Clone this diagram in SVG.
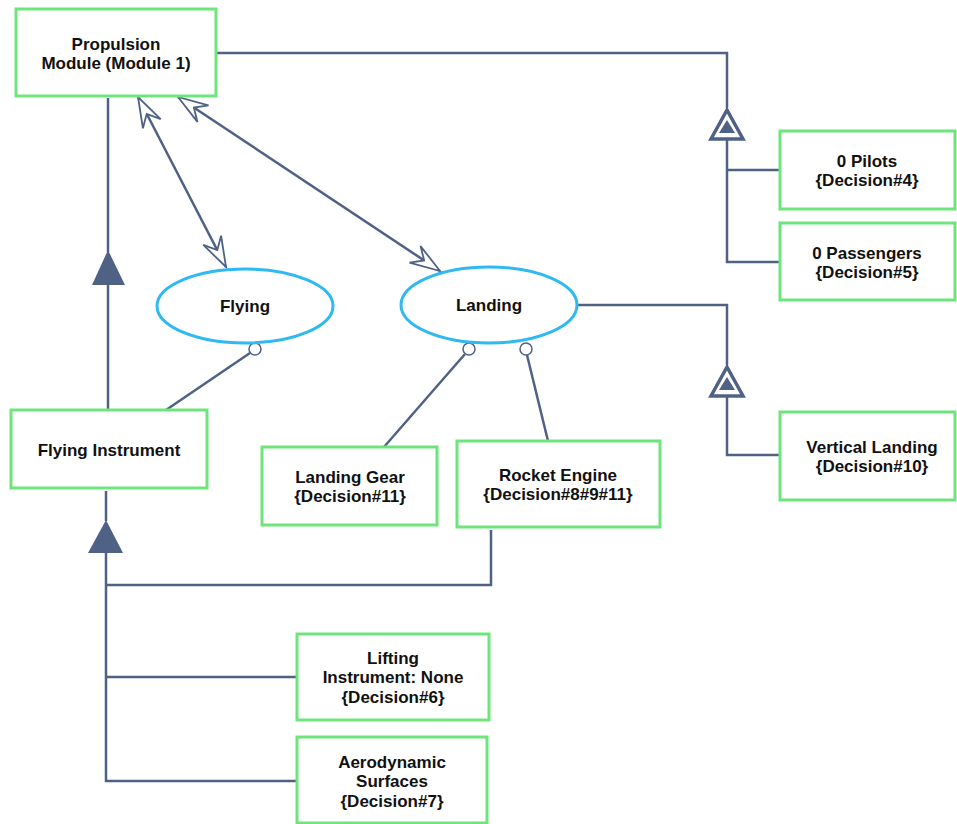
<svg xmlns="http://www.w3.org/2000/svg" width="957" height="824" viewBox="0 0 957 824">
<style>
.box{fill:#fff;stroke:#6ee57a;stroke-width:3}
.ell{fill:#fff;stroke:#2fb9f2;stroke-width:3}
.ln{fill:none;stroke:#4f6285;stroke-width:2.5}
.dot{fill:#fff;stroke:#4f6285;stroke-width:1.5}
.t{font-family:"Liberation Sans",Arial,sans-serif;font-weight:bold;font-size:17px;fill:#111;text-anchor:middle}
.gen{fill:#4f6285}
.gen2{fill:#fff;stroke:#4f6285;stroke-width:3.5}
</style>
<defs>
<marker id="oa" viewBox="-32 -12 34 24" refX="0" refY="0" markerWidth="34" markerHeight="24" markerUnits="userSpaceOnUse" orient="auto-start-reverse">
<path d="M0,0 L-30,-10 L-19,0 L-30,10 Z" fill="#fff" stroke="#4f6285" stroke-width="1.8" stroke-linejoin="miter"/>
</marker>
</defs>
<g id="connectors">
<polyline class="ln" points="216,53 727,53 727,108"/>
<polyline class="ln" points="727,139 727,262 780,262"/>
<line class="ln" x1="727" y1="170" x2="780" y2="170"/>
<polygon class="gen2" points="727,110 711,139 743,139"/>
<polygon class="gen" points="727,120 719,133 735,133"/>
<polyline class="ln" points="577,305 727,305 727,365"/>
<polyline class="ln" points="727,397 727,455 780,455"/>
<polygon class="gen2" points="727,367 711,396 743,396"/>
<polygon class="gen" points="727,377 719,390 735,390"/>
<line class="ln" x1="108" y1="98" x2="108" y2="252"/>
<line class="ln" x1="108" y1="284" x2="108" y2="410"/>
<polygon class="gen" points="108,250 92,285 125,285"/>
<line class="ln" x1="106" y1="491" x2="106" y2="521"/>
<polygon class="gen" points="106,520 88,553 123,553"/>
<polyline class="ln" points="106,553 106,781 297,781"/>
<polyline class="ln" points="106,585 491,585 491,530"/>
<line class="ln" x1="106" y1="677" x2="297" y2="677"/>
<line class="ln" x1="166" y1="410" x2="250" y2="353"/>
<circle class="dot" cx="255" cy="349" r="6"/>
<line class="ln" x1="384" y1="447" x2="465" y2="354"/>
<circle class="dot" cx="469" cy="349" r="6"/>
<line class="ln" x1="548" y1="441" x2="527" y2="355"/>
<circle class="dot" cx="526" cy="349" r="6"/>
<line class="ln" x1="138" y1="97" x2="226" y2="267" marker-start="url(#oa)" marker-end="url(#oa)"/>
<line class="ln" x1="178" y1="97" x2="440" y2="271" marker-start="url(#oa)" marker-end="url(#oa)"/>
</g>
<g id="propulsion"><rect class="box" x="16" y="9" width="200" height="87"/><text class="t" x="116" y="49.5">Propulsion</text><text class="t" x="116" y="69">Module (Module 1)</text></g>
<g id="pilots"><rect class="box" x="780" y="131" width="175" height="78"/><text class="t" x="867" y="166.5">0 Pilots</text><text class="t" x="867" y="186">{Decision#4}</text></g>
<g id="passengers"><rect class="box" x="780" y="223" width="175" height="77"/><text class="t" x="867" y="258.5">0 Passengers</text><text class="t" x="867" y="278">{Decision#5}</text></g>
<g id="flying"><ellipse class="ell" cx="245" cy="306" rx="88" ry="37"/><text class="t" x="245" y="312">Flying</text></g>
<g id="landing"><ellipse class="ell" cx="489" cy="305" rx="88" ry="38"/><text class="t" x="489" y="311">Landing</text></g>
<g id="vertical"><rect class="box" x="780" y="412" width="175" height="88"/><text class="t" x="872" y="452.5">Vertical Landing</text><text class="t" x="872" y="472">{Decision#10}</text></g>
<g id="flyinginstrument"><rect class="box" x="11" y="410" width="196" height="78"/><text class="t" x="109" y="456">Flying Instrument</text></g>
<g id="landinggear"><rect class="box" x="262" y="447" width="175" height="78"/><text class="t" x="350" y="482.5">Landing Gear</text><text class="t" x="350" y="502">{Decision#11}</text></g>
<g id="rocket"><rect class="box" x="457" y="441" width="203" height="86"/><text class="t" x="558" y="480.5">Rocket Engine</text><text class="t" x="558" y="500">{Decision#8#9#11}</text></g>
<g id="lifting"><rect class="box" x="297" y="634" width="192" height="86"/><text class="t" x="393" y="663.5">Lifting</text><text class="t" x="393" y="683">Instrument: None</text><text class="t" x="393" y="702.5">{Decision#6}</text></g>
<g id="aero"><rect class="box" x="297" y="737" width="190" height="86"/><text class="t" x="392" y="767.5">Aerodynamic</text><text class="t" x="392" y="787">Surfaces</text><text class="t" x="392" y="806.5">{Decision#7}</text></g>
</svg>
